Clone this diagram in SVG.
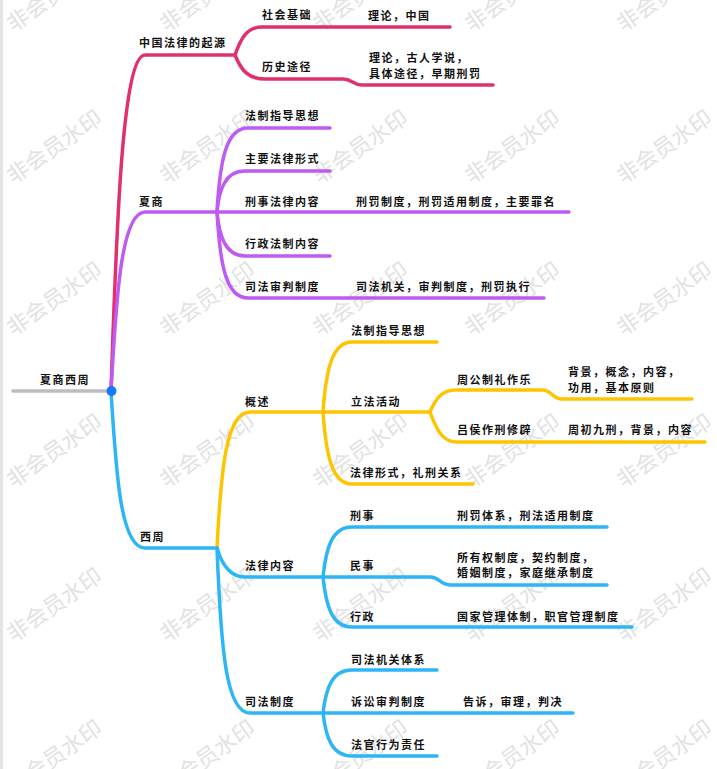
<svg xmlns="http://www.w3.org/2000/svg" width="717" height="769" viewBox="0 0 717 769">
<style>
.t{font-family:"Noto Sans CJK SC","Noto Sans CJK JP",sans-serif;font-size:11px;font-weight:700;letter-spacing:1.5px;fill:#111}
.wm{font-family:"Noto Sans CJK SC",sans-serif;font-size:22px;fill:#e2e2e2;text-anchor:middle;dominant-baseline:central}
.c{fill:none;stroke-width:3.5;stroke-linecap:round;stroke-linejoin:round}
.red{stroke:#E0306E}
.pur{stroke:#BF5BF0}
.yel{stroke:#FFC400}
.blu{stroke:#2DB6F6}
</style>
<rect width="717" height="769" fill="#fff"/>
<rect x="0" y="0" width="3" height="769" fill="#e4e4e8"/>
<g id="watermarks">
<text class="wm" transform="translate(53,-7) rotate(-35)">非会员水印</text>
<text class="wm" transform="translate(206,-7) rotate(-35)">非会员水印</text>
<text class="wm" transform="translate(359,-7) rotate(-35)">非会员水印</text>
<text class="wm" transform="translate(511,-7) rotate(-35)">非会员水印</text>
<text class="wm" transform="translate(663,-7) rotate(-35)">非会员水印</text>
<text class="wm" transform="translate(53,145) rotate(-35)">非会员水印</text>
<text class="wm" transform="translate(206,145) rotate(-35)">非会员水印</text>
<text class="wm" transform="translate(359,145) rotate(-35)">非会员水印</text>
<text class="wm" transform="translate(511,145) rotate(-35)">非会员水印</text>
<text class="wm" transform="translate(663,145) rotate(-35)">非会员水印</text>
<text class="wm" transform="translate(53,297) rotate(-35)">非会员水印</text>
<text class="wm" transform="translate(206,297) rotate(-35)">非会员水印</text>
<text class="wm" transform="translate(359,297) rotate(-35)">非会员水印</text>
<text class="wm" transform="translate(511,297) rotate(-35)">非会员水印</text>
<text class="wm" transform="translate(663,297) rotate(-35)">非会员水印</text>
<text class="wm" transform="translate(53,449) rotate(-35)">非会员水印</text>
<text class="wm" transform="translate(206,449) rotate(-35)">非会员水印</text>
<text class="wm" transform="translate(359,449) rotate(-35)">非会员水印</text>
<text class="wm" transform="translate(511,449) rotate(-35)">非会员水印</text>
<text class="wm" transform="translate(663,449) rotate(-35)">非会员水印</text>
<text class="wm" transform="translate(53,603) rotate(-35)">非会员水印</text>
<text class="wm" transform="translate(206,603) rotate(-35)">非会员水印</text>
<text class="wm" transform="translate(359,603) rotate(-35)">非会员水印</text>
<text class="wm" transform="translate(511,603) rotate(-35)">非会员水印</text>
<text class="wm" transform="translate(663,603) rotate(-35)">非会员水印</text>
<text class="wm" transform="translate(53,755) rotate(-35)">非会员水印</text>
<text class="wm" transform="translate(206,755) rotate(-35)">非会员水印</text>
<text class="wm" transform="translate(359,755) rotate(-35)">非会员水印</text>
<text class="wm" transform="translate(511,755) rotate(-35)">非会员水印</text>
<text class="wm" transform="translate(663,755) rotate(-35)">非会员水印</text>
</g>
<g id="connectors">
<path class="c" stroke="#bdbdbd" d="M13,391 L111,391"/>
<path class="c red" d="M111,391 C116,250 121,55 145,55 L235,55"/>
<path class="c red" d="M235,55 C241,38 247,27 262,27 L450,27"/>
<path class="c red" d="M235,55 C241,70 248,79 265,79 L343,79 C352,79 353,85 362,85 L493,85"/>
<path class="c pur" d="M111,391 C116,300 121,212 145,212 L217,212"/>
<path class="c pur" d="M217,212 C220,160 226,128 248,128 L330,128"/>
<path class="c pur" d="M217,212 C219,190 225,171 245,171 L330,171"/>
<path class="c pur" d="M217,212 L569,212"/>
<path class="c pur" d="M217,212 C219,235 225,256 245,256 L330,256"/>
<path class="c pur" d="M217,212 C220,265 226,298 248,298 L544,298"/>
<path class="c blu" d="M111,391 C116,470 120,548 145,548 L217,548"/>
<path class="c yel" d="M217,548 C221,470 226,412 250,412 L323,412"/>
<path class="c yel" d="M323,412 C326,370 332,342 352,342 L437,342"/>
<path class="c yel" d="M323,412 L430,412"/>
<path class="c yel" d="M323,412 C326,455 332,484 352,484 L473,484"/>
<path class="c yel" d="M430,412 C436,398 442,390 456,390 L542,390 C552,390 552,399 562,399 L692,399"/>
<path class="c yel" d="M430,412 C436,428 442,442 456,442 L705,442"/>
<path class="c blu" d="M217,548 C222,565 230,577 245,577 L323,577"/>
<path class="c blu" d="M323,577 C326,548 332,527 352,527 L607,527"/>
<path class="c blu" d="M323,577 L430,577 C440,577 440,585 450,585 L607,585"/>
<path class="c blu" d="M323,577 C326,606 332,627 352,627 L632,627"/>
<path class="c blu" d="M217,548 C221,650 226,713 250,713 L323,713"/>
<path class="c blu" d="M323,713 C326,688 332,670 352,670 L437,670"/>
<path class="c blu" d="M323,713 L573,713"/>
<path class="c blu" d="M323,713 C326,738 332,756 352,756 L437,756"/>
<circle cx="111.5" cy="391" r="5" fill="#1677FF"/>
</g>
<g id="root"><text class="t" x="40" y="384">夏商西周</text></g>
<g id="n-origin"><text class="t" x="139" y="47">中国法律的起源</text></g>
<g id="n-social"><text class="t" x="262" y="19">社会基础</text></g>
<g id="n-social-d"><text class="t" x="368" y="20">理论，中国</text></g>
<g id="n-history"><text class="t" x="262" y="71">历史途径</text></g>
<g id="n-history-d"><text class="t" x="369" y="62">理论，古人学说，</text><text class="t" x="369" y="78">具体途径，早期刑罚</text></g>
<g id="n-xiashang"><text class="t" x="139" y="206">夏商</text></g>
<g id="n-xs-1"><text class="t" x="245" y="120">法制指导思想</text></g>
<g id="n-xs-2"><text class="t" x="245" y="163">主要法律形式</text></g>
<g id="n-xs-3"><text class="t" x="245" y="206">刑事法律内容</text></g>
<g id="n-xs-3d"><text class="t" x="356" y="206">刑罚制度，刑罚适用制度，主要罪名</text></g>
<g id="n-xs-4"><text class="t" x="245" y="248">行政法制内容</text></g>
<g id="n-xs-5"><text class="t" x="245" y="291">司法审判制度</text></g>
<g id="n-xs-5d"><text class="t" x="356" y="291">司法机关，审判制度，刑罚执行</text></g>
<g id="n-xizhou"><text class="t" x="140" y="541">西周</text></g>
<g id="n-gaishu"><text class="t" x="245" y="406">概述</text></g>
<g id="n-gs-1"><text class="t" x="351" y="335">法制指导思想</text></g>
<g id="n-gs-2"><text class="t" x="351" y="406">立法活动</text></g>
<g id="n-zhougong"><text class="t" x="457" y="384">周公制礼作乐</text></g>
<g id="n-zhougong-d"><text class="t" x="568" y="376">背景，概念，内容，</text><text class="t" x="568" y="392">功用，基本原则</text></g>
<g id="n-lvhou"><text class="t" x="457" y="434">吕侯作刑修辟</text></g>
<g id="n-lvhou-d"><text class="t" x="568" y="434">周初九刑，背景，内容</text></g>
<g id="n-gs-3"><text class="t" x="350" y="477">法律形式，礼刑关系</text></g>
<g id="n-falv"><text class="t" x="245" y="570">法律内容</text></g>
<g id="n-xingshi"><text class="t" x="350" y="520">刑事</text></g>
<g id="n-xingshi-d"><text class="t" x="457" y="520">刑罚体系，刑法适用制度</text></g>
<g id="n-minshi"><text class="t" x="350" y="570">民事</text></g>
<g id="n-minshi-d"><text class="t" x="457" y="562">所有权制度，契约制度，</text><text class="t" x="457" y="577">婚姻制度，家庭继承制度</text></g>
<g id="n-xingzheng"><text class="t" x="350" y="621">行政</text></g>
<g id="n-xingzheng-d"><text class="t" x="457" y="621">国家管理体制，职官管理制度</text></g>
<g id="n-sifa"><text class="t" x="245" y="706">司法制度</text></g>
<g id="n-sf-1"><text class="t" x="351" y="664">司法机关体系</text></g>
<g id="n-sf-2"><text class="t" x="351" y="706">诉讼审判制度</text></g>
<g id="n-sf-2d"><text class="t" x="463" y="706">告诉，审理，判决</text></g>
<g id="n-sf-3"><text class="t" x="351" y="749">法官行为责任</text></g>
</svg>
